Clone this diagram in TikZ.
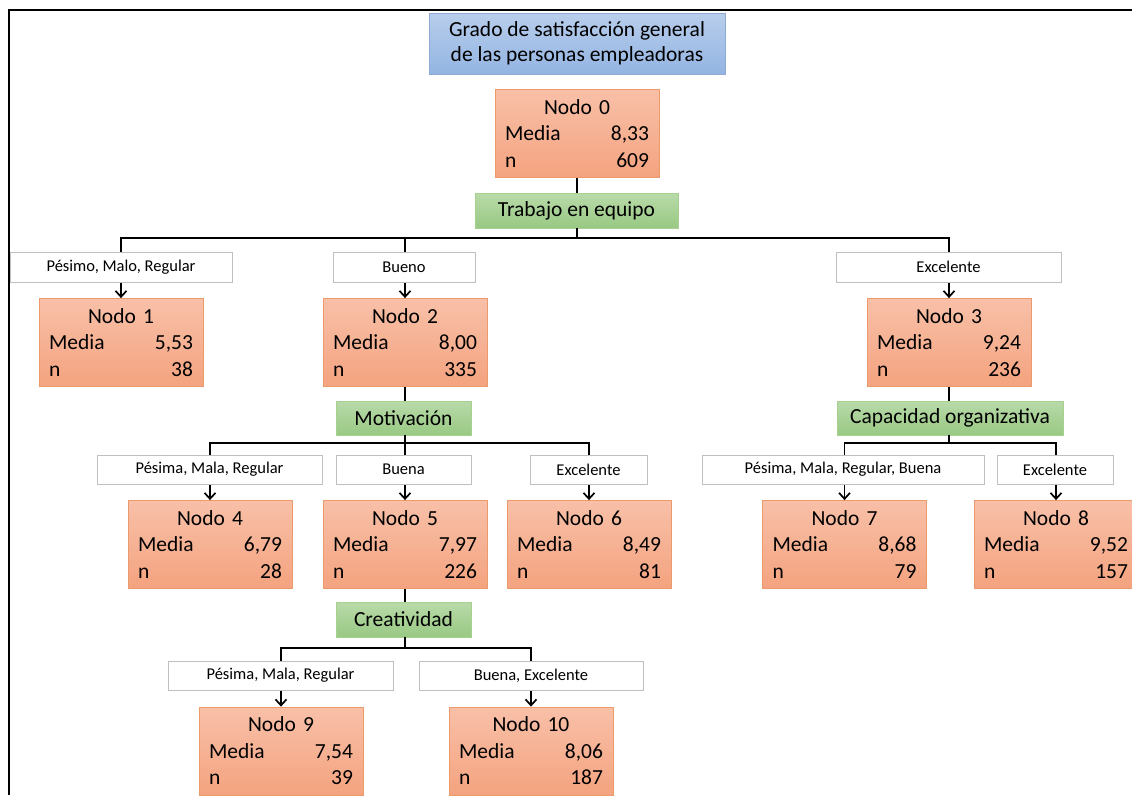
\documentclass[tikz,border=0pt]{standalone}
\usepackage{fontspec}
\setmainfont{Carlito}
\usetikzlibrary{arrows.meta}
\definecolor{ntop}{HTML}{F8C0A8}
\definecolor{nbot}{HTML}{F4A37F}
\definecolor{nbrd}{HTML}{EC996C}
\definecolor{ttop}{HTML}{B8CEEC}
\definecolor{tbot}{HTML}{93B4E2}
\definecolor{tbrd}{HTML}{8EA9D2}
\definecolor{gtop}{HTML}{B9DAA9}
\definecolor{gbot}{HTML}{98C983}
\definecolor{gbrd}{HTML}{A8D08F}
\definecolor{lbrd}{HTML}{BFBFBF}
\tikzset{
  statbox/.style={draw=nbrd, line width=0.8pt, top color=ntop, bottom color=nbot,
    minimum width=164pt, minimum height=88pt, text width=144pt, align=center,
    inner sep=0pt, font=\fontsize{21.5}{26.5}\selectfont},
  titlebox/.style={draw=tbrd, line width=0.8pt, top color=ttop, bottom color=tbot,
    minimum width=296pt, minimum height=61pt, align=center, inner sep=0pt,
    font=\fontsize{21.5}{25}\selectfont},
  varbox/.style={draw=gbrd, line width=0.6pt, top color=gtop, bottom color=gbot,
    minimum height=35pt, inner sep=0pt, font=\fontsize{21.5}{24}\selectfont},
  catbox/.style={draw=lbrd, line width=0.8pt, fill=white, minimum height=29pt,
    inner sep=0pt, font=\fontsize{16.5}{19}\selectfont},
  link/.style={draw=black, line width=1.7pt},
  arr/.style={link, -{Straight Barb[length=6pt,width=11pt,line width=1.7pt]}},
}
\newcommand{\nodetxt}[3]{Nodo #1\\ Media\hfill #2\\ n\hfill #3}
\begin{document}
\begin{tikzpicture}[x=1pt,y=-1pt]
\useasboundingbox (0,0) rectangle (1132,795);
\clip (0,0) rectangle (1132,795);
\fill[white] (0,0) rectangle (1132,795);
\draw[line width=2.6pt] (9,795) -- (9,10) -- (1133,10);

% title
\node[titlebox] (title) at (577,43.5) {Grado de satisfacción general\\de las personas empleadoras};

% stat nodes
\node[statbox] (n0) at (577,133.5) {\nodetxt{0}{8,33}{609}};
\node[statbox] (n1) at (121,342.5) {\nodetxt{1}{5,53}{38}};
\node[statbox] (n2) at (405,342.5) {\nodetxt{2}{8,00}{335}};
\node[statbox] (n3) at (949,342.5) {\nodetxt{3}{9,24}{236}};
\node[statbox] (n4) at (210,544.5) {\nodetxt{4}{6,79}{28}};
\node[statbox] (n5) at (405,544.5) {\nodetxt{5}{7,97}{226}};
\node[statbox] (n6) at (589,544.5) {\nodetxt{6}{8,49}{81}};
\node[statbox] (n7) at (844.5,544.5) {\nodetxt{7}{8,68}{79}};
\node[statbox] (n8) at (1056,544.5) {\nodetxt{8}{9,52}{157}};
\node[statbox] (n9) at (281,751) {\nodetxt{9}{7,54}{39}};
\node[statbox] (n10) at (531,751) {\nodetxt{10}{8,06}{187}};

% variable boxes
\node[varbox, minimum width=203pt] (v0) at (576.5,210.5) {Trabajo en equipo};
\node[varbox, minimum width=135pt, minimum height=34pt] (v2) at (403.5,418) {Motivación};
\node[varbox, minimum width=226pt, minimum height=34pt] (v3) at (950,418) {Capacidad organizativa};
\node[varbox, minimum width=135pt] (v5) at (403.5,619.5) {Creatividad};

% connectors parent -> variable
\draw[link] (n0.south) -- (n0.south |- v0.north);
\draw[link] (n2.south) -- (n2.south |- v2.north);
\draw[link] (n3.south) -- (n3.south |- v3.north);
\draw[link] (n5.south) -- (n5.south |- v5.north);

% connectors variable -> children
\draw[arr] (n0.south |- v0.south) -- ++(0,10) -| (n1.north);
\draw[arr] (n0.south |- v0.south) -- ++(0,10) -| (n2.north);
\draw[arr] (n0.south |- v0.south) -- ++(0,10) -| (n3.north);
\draw[arr] (n2.south |- v2.south) -- ++(0,8) -| (n4.north);
\draw[arr] (n2.south |- v2.south) -- ++(0,8) -| (n5.north);
\draw[arr] (n2.south |- v2.south) -- ++(0,8) -| (n6.north);
\draw[arr] (n3.south |- v3.south) -- ++(0,8) -| (n7.north);
\draw[arr] (n3.south |- v3.south) -- ++(0,8) -| (n8.north);
\draw[arr] (n5.south |- v5.south) -- ++(0,11) -| (n9.north);
\draw[arr] (n5.south |- v5.south) -- ++(0,11) -| (n10.north);

% category labels
\node[catbox, minimum width=222pt, minimum height=30pt] (c1) at (121,267) {Pésimo, Malo, Regular};
\node[catbox, minimum width=142pt, minimum height=30pt] (c2) at (404,267) {Bueno};
\node[catbox, minimum width=225pt, minimum height=30pt] (c3) at (948.5,267) {Excelente};
\node[catbox, minimum width=225pt] (c4) at (209.5,469.5) {Pésima, Mala, Regular};
\node[catbox, minimum width=135pt] (c5) at (403.5,469.5) {Buena};
\node[catbox, minimum width=117pt] (c6) at (588.5,469.5) {Excelente};
\node[catbox, minimum width=282pt] (c7) at (843,469.5) {Pésima, Mala, Regular, Buena};
\node[catbox, minimum width=116pt] (c8) at (1055,469.5) {Excelente};
\node[catbox, minimum width=225pt] (c9) at (280.5,675.5) {Pésima, Mala, Regular};
\node[catbox, minimum width=224pt] (c10) at (531,675.5) {Buena, Excelente};
\end{tikzpicture}
\end{document}
